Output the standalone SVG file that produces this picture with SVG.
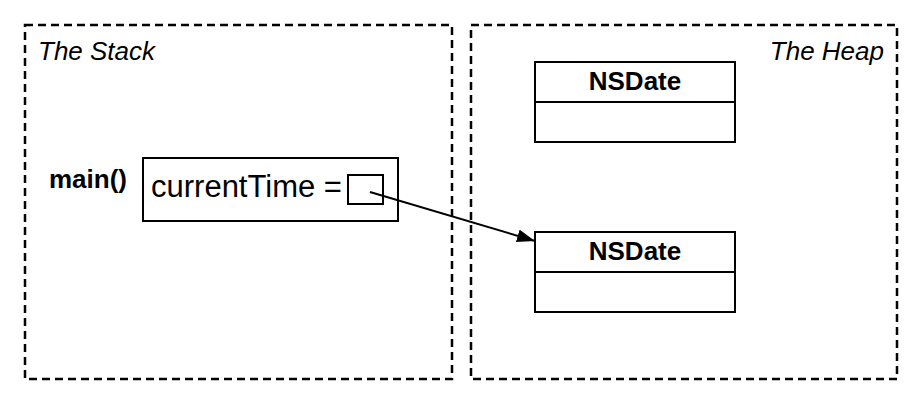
<svg xmlns="http://www.w3.org/2000/svg" width="920" height="403" viewBox="0 0 920 403">
<style>
.region{fill:none;stroke:#000;stroke-width:2.5;stroke-dasharray:8,5}
.box{fill:#fff;stroke:#000;stroke-width:2}
.lbl{font-family:"Liberation Sans",Arial,sans-serif;fill:#000}
.it{font-style:italic;font-size:26px}
.b{font-weight:bold;font-size:26px}
</style>
<defs>
<marker id="ah" markerWidth="18" markerHeight="13" refX="18" refY="6.5" orient="auto" markerUnits="userSpaceOnUse">
<path d="M0,0 L18,6.5 L0,13 z" fill="#000"/>
</marker>
</defs>
<g id="stack">
<rect class="region" x="25" y="25" width="427" height="354"/>
<text class="lbl it" x="38" y="60">The Stack</text>
</g>
<g id="heap">
<rect class="region" x="471" y="25" width="426" height="354"/>
<text class="lbl it" x="884" y="60" text-anchor="end">The Heap</text>
</g>
<g id="main">
<text class="lbl b" x="49" y="188">main()</text>
<rect class="box" x="143" y="158" width="255" height="63"/>
<text class="lbl" x="151" y="197" font-size="31">currentTime =</text>
<rect class="box" x="348" y="175" width="35" height="29"/>
</g>
<g id="nsdate1">
<rect class="box" x="535" y="62" width="200" height="80"/>
<line x1="535" y1="102" x2="735" y2="102" stroke="#000" stroke-width="2"/>
<text class="lbl b" x="635" y="90" text-anchor="middle">NSDate</text>
</g>
<g id="nsdate2">
<rect class="box" x="535" y="232" width="200" height="80"/>
<line x1="535" y1="272" x2="735" y2="272" stroke="#000" stroke-width="2"/>
<text class="lbl b" x="635" y="260" text-anchor="middle">NSDate</text>
</g>
<g id="connectors">
<line x1="370" y1="192" x2="535" y2="241" stroke="#000" stroke-width="2" marker-end="url(#ah)"/>
</g>
</svg>
